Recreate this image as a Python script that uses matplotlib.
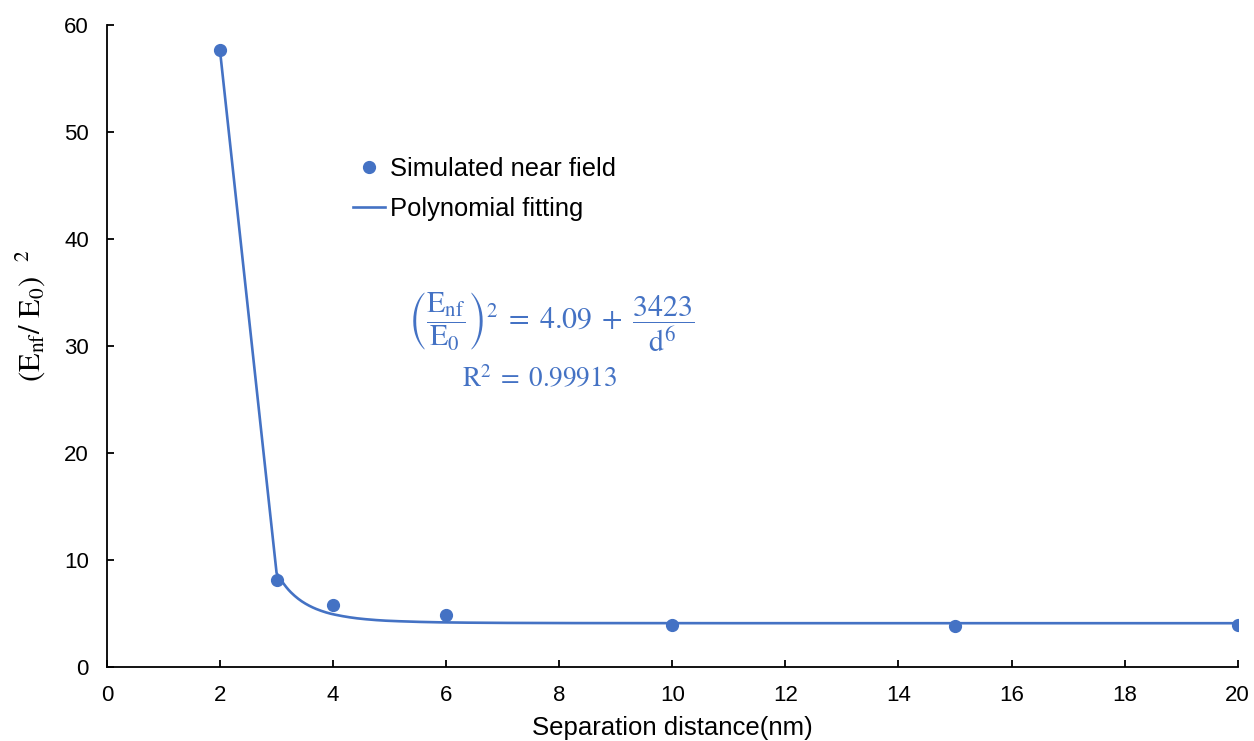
import numpy as np
import matplotlib.pyplot as plt

# simulated near-field enhancement vs gap
SEP_NM = [2, 3, 4, 6, 10, 15, 20]
ENH = [57.7, 8.15, 5.8, 4.85, 3.95, 3.85, 3.95]

# fitted model: (Enf/E0)^2 = A + B / d^6
FIT_A = 4.09
FIT_B = 3423
FIT_R2 = 0.99913
FIT_X = [2, 3, 3.25, 3.5, 3.75, 4, 4.5, 5, 6, 7, 8, 10, 12, 15, 20]

X_TICKS = list(range(0, 21, 2))
Y_TICKS = list(range(0, 61, 10))

BLUE = '#4472C4'


def pchip(x, y, xs):
    """monotone cubic (Fritsch-Carlson), used to draw a smooth fit line"""
    x = np.asarray(x, float)
    y = np.asarray(y, float)
    h = np.diff(x)
    delta = np.diff(y) / h
    d = np.zeros_like(y)
    for k in range(1, len(x) - 1):
        if delta[k - 1] * delta[k] > 0:
            w1 = 2 * h[k] + h[k - 1]
            w2 = h[k] + 2 * h[k - 1]
            d[k] = (w1 + w2) / (w1 / delta[k - 1] + w2 / delta[k])
    d[0] = ((2 * h[0] + h[1]) * delta[0] - h[0] * delta[1]) / (h[0] + h[1])
    if np.sign(d[0]) != np.sign(delta[0]):
        d[0] = 0
    d[-1] = ((2 * h[-1] + h[-2]) * delta[-1] - h[-1] * delta[-2]) / (h[-1] + h[-2])
    if np.sign(d[-1]) != np.sign(delta[-1]):
        d[-1] = 0
    idx = np.clip(np.searchsorted(x, xs) - 1, 0, len(x) - 2)
    t = (xs - x[idx]) / h[idx]
    h00 = 2 * t**3 - 3 * t**2 + 1
    h10 = t**3 - 2 * t**2 + t
    h01 = -2 * t**3 + 3 * t**2
    h11 = t**3 - t**2
    return h00 * y[idx] + h10 * h[idx] * d[idx] + h01 * y[idx + 1] + h11 * h[idx] * d[idx + 1]


def main():
    plt.rcParams['font.family'] = ['Liberation Sans', 'DejaVu Sans']
    plt.rcParams['mathtext.fontset'] = 'stix'

    fig = plt.figure(figsize=(12.54, 7.41), dpi=100)
    ax = fig.add_axes([0.0853, 0.0999, 0.9017, 0.8664])

    fit_x = np.array(FIT_X, float)
    fit_y = FIT_A + FIT_B / fit_x**6
    # first gap is joined straight, the rest smoothed
    xs = np.linspace(fit_x[1], fit_x[-1], 800)
    line_x = np.concatenate([[fit_x[0]], xs])
    line_y = np.concatenate([[fit_y[0]], pchip(fit_x[1:], fit_y[1:], xs)])
    ax.plot(line_x, line_y, color=BLUE, lw=1.9, label='Polynomial fitting', zorder=2)
    ax.plot(SEP_NM, ENH, 'o', color=BLUE, ms=8.5, ls='none',
            label='Simulated near field', zorder=3)

    ax.set_xlim(0, 20)
    ax.set_ylim(0, 60)
    ax.set_xticks(X_TICKS)
    ax.set_yticks(Y_TICKS)
    ax.tick_params(direction='in', length=5, width=1.3, labelsize=16, colors='black')
    ax.tick_params(axis='x', pad=13)
    ax.tick_params(axis='y', pad=13)
    for side in ['top', 'right']:
        ax.spines[side].set_visible(False)
    for side in ['left', 'bottom']:
        ax.spines[side].set_linewidth(1.3)

    ax.set_xlabel('Separation distance(nm)', fontsize=18.5, labelpad=7.5)
    ax.set_ylabel(r'$(\mathrm{E_{nf}}/\ \mathrm{E_{0}})\ \ {}^{2}$', fontsize=22)
    ax.yaxis.set_label_coords(-0.053, 0.548)

    handles, labels = ax.get_legend_handles_labels()
    ax.legend(handles[::-1], labels[::-1], loc='upper left', bbox_to_anchor=(0.197, 0.83),
              frameon=False, fontsize=18.4, handlelength=1.25, handletextpad=0.2,
              labelspacing=0.62)

    ax.text(7.85, 32.2,
            r'$\left(\dfrac{\mathrm{E_{nf}}}{\mathrm{E_{0}}}\right)^{2}\;=\;4.09\;+\;\dfrac{3423}{\mathrm{d}^{6}}$',
            color=BLUE, fontsize=21.5, ha='center', va='center')
    ax.text(7.65, 26.8, r'$\mathrm{R}^{2}\;=\;%.5f$' % FIT_R2,
            color=BLUE, fontsize=19.5, ha='center', va='center')

    fig.savefig('out.png', dpi=100)


if __name__ == '__main__':
    main()
